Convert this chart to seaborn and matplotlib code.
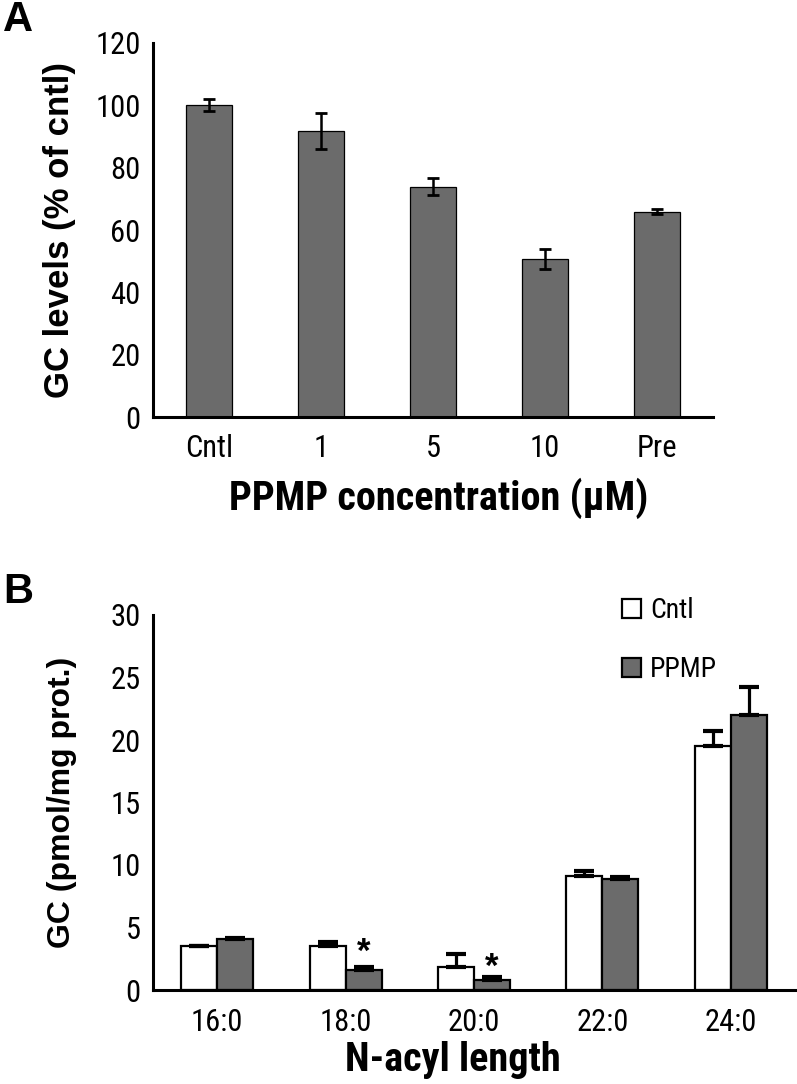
import matplotlib
matplotlib.use("Agg")
import matplotlib.pyplot as plt
import seaborn as sns
import numpy as np
import pandas as pd

# Panel A data
conc_labels = ["Cntl", "1", "5", "10", "Pre"]
gc_pct = [100, 91.7, 73.9, 50.6, 65.9]
gc_pct_err = [1.9, 5.7, 2.7, 3.2, 0.8]

# Panel B data
acyl_labels = ["16:0", "18:0", "20:0", "22:0", "24:0"]
cntl_vals = [3.5, 3.5, 1.88, 9.15, 19.56]
cntl_err = [0.03, 0.35, 1.0, 0.4, 1.15]
ppmp_vals = [4.12, 1.61, 0.81, 8.85, 21.98]
ppmp_err = [0.03, 0.2, 0.2, 0.22, 2.3]
star_groups = ["18:0", "20:0"]
star_y = [3.76, 2.56]

sns.set_style("white")
narrow = ['Roboto Condensed', 'DejaVu Sans']
wide = ['Liberation Sans', 'DejaVu Sans']
plt.rcParams['font.family'] = narrow

gray = "#6b6b6b"
W, H = 797, 1084
fig = plt.figure(figsize=(W / 100, H / 100), dpi=100)


def style_axes(ax, n, xpad):
    for side in ["top", "right"]:
        ax.spines[side].set_visible(False)
    for side in ["left", "bottom"]:
        ax.spines[side].set_linewidth(2.2)
        ax.spines[side].set_color("black")
    ax.set_xlim(-0.5, n - 0.5)
    ax.set_xticks(np.arange(n))
    ax.set_xticks(np.arange(n + 1) - 0.5, minor=True)
    ax.tick_params(axis="x", which="major", length=0, labelsize=22, pad=xpad,
                   labelcolor="black")
    ax.tick_params(axis="x", which="minor", length=6, width=2.2, direction="out",
                   color="black")
    ax.tick_params(axis="y", length=6, width=2.2, direction="out", labelsize=22,
                   pad=3, color="black", labelcolor="black")


# ---- Panel A ----
axA = fig.add_axes([153 / W, 1 - 417 / H, 560 / W, 374 / H])
dfA = pd.DataFrame({"conc": conc_labels, "gc": gc_pct})
sns.barplot(data=dfA, x="conc", y="gc", color=gray, width=0.41,
            edgecolor="black", linewidth=0.9, saturation=1, ax=axA)
xs = [p.get_x() + p.get_width() / 2 for p in axA.patches]
axA.errorbar(xs, gc_pct, yerr=gc_pct_err, fmt="none", ecolor="black",
             elinewidth=1.8, capsize=4, capthick=2)
axA.set_ylim(0, 120)
axA.set_yticks(range(0, 121, 20))
style_axes(axA, len(conc_labels), 12)
axA.set_xlabel("PPMP concentration (\u03bcM)", fontsize=29, fontweight="bold",
               family=narrow, color="black", va="center")
axA.xaxis.set_label_coords((439 - 153) / 560, -(498 - 417) / 374)
axA.set_ylabel("GC levels (% of cntl)", fontsize=25, fontweight="bold",
               family=wide, color="black")
axA.yaxis.set_label_coords(-0.1375, 0.5)
fig.text(3 / W, 1 - 20 / H, "A", fontsize=30, fontweight="bold", family=wide,
         va="center", color="black")

# ---- Panel B ----
axB = fig.add_axes([153 / W, 1 - 990 / H, 642 / W, 375 / H])
dfB = pd.DataFrame({
    "acyl": acyl_labels * 2,
    "val": cntl_vals + ppmp_vals,
    "group": ["Cntl"] * 5 + ["PPMP"] * 5,
})
sns.barplot(data=dfB, x="acyl", y="val", hue="group",
            palette={"Cntl": "white", "PPMP": gray}, width=0.56,
            edgecolor="black", linewidth=1.6, saturation=1, ax=axB)
bars = axB.patches[:10]
cx = [p.get_x() + p.get_width() / 2 for p in bars[:5]]
px = [p.get_x() + p.get_width() / 2 for p in bars[5:10]]
axB.errorbar(cx, cntl_vals, yerr=[np.zeros(5), cntl_err], fmt="none",
             ecolor="black", elinewidth=2.3, capsize=7, capthick=3)
axB.errorbar(px, ppmp_vals, yerr=[np.zeros(5), ppmp_err], fmt="none",
             ecolor="black", elinewidth=2.3, capsize=7, capthick=3)
for g, sy in zip(star_groups, star_y):
    i = acyl_labels.index(g)
    axB.text(px[i], sy - 1.5, "*", ha="center", va="baseline",
             fontsize=25, fontweight="bold", family=wide, color="black")
axB.set_ylim(0, 30)
axB.set_yticks(range(0, 31, 5))
style_axes(axB, len(acyl_labels), 13)
axB.set_xlabel("N-acyl length", fontsize=29, fontweight="bold",
               family=narrow, color="black", va="center")
axB.xaxis.set_label_coords((453 - 153) / 642, -(1060 - 990) / 375)
axB.set_ylabel("GC (pmol/mg prot.)", fontsize=23, fontweight="bold",
               family=wide, color="black")
axB.yaxis.set_label_coords(-0.118, 0.5)
leg = axB.legend(loc="upper left", bbox_to_anchor=(622 / W, 1 - 597 / H),
                 bbox_transform=fig.transFigure, frameon=False, fontsize=20,
                 borderpad=0, borderaxespad=0, labelspacing=1.15,
                 handlelength=0.7, handleheight=0.7, handletextpad=0.3)
for t in leg.get_texts():
    t.set_color("black")
fig.text(3 / W, 1 - 592 / H, "B", fontsize=30, fontweight="bold", family=wide,
         va="center", color="black")

fig.savefig("out.png", dpi=100)
